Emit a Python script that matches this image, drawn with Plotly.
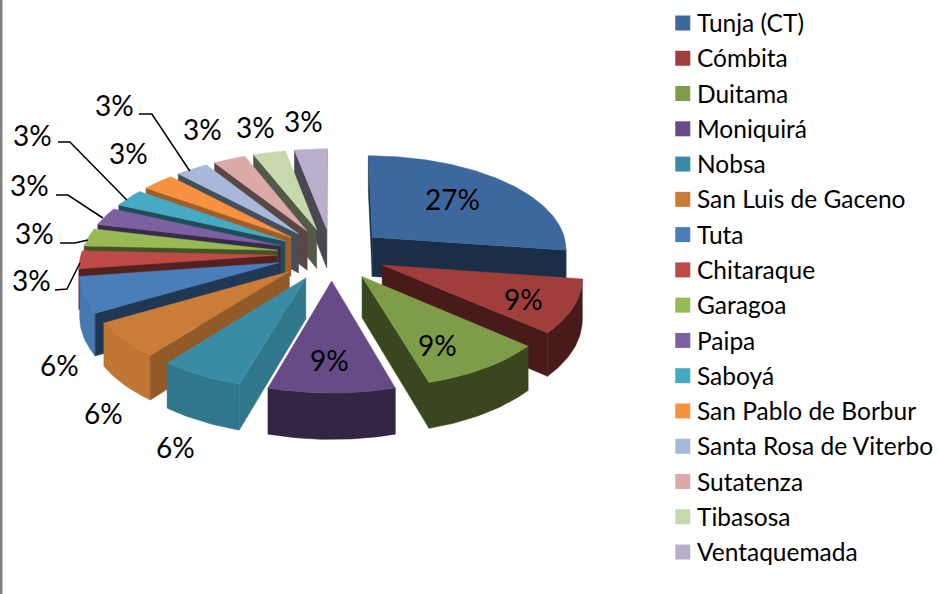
import math
import plotly.graph_objects as go

# ---------- data ----------
municipios = ["Tunja (CT)", "Cómbita", "Duitama", "Moniquirá", "Nobsa", "San Luis de Gaceno",
              "Tuta", "Chitaraque", "Garagoa", "Paipa", "Saboyá", "San Pablo de Borbur",
              "Santa Rosa de Viterbo", "Sutatenza", "Tibasosa", "Ventaquemada"]
casos = [9, 3, 3, 3, 2, 2, 2, 1, 1, 1, 1, 1, 1, 1, 1, 1]

# ---------- styles ----------
top_colors = ["#3C689E", "#A03E3B", "#7F9C48", "#664B87", "#3A8CA5", "#CB7D38",
              "#4A7EBB", "#BE4B48", "#98B954", "#7D60A0", "#46AAC5", "#F69240",
              "#A7B9DA", "#DBA9A8", "#C6D8AC", "#B9AFCD"]
radial_shade = [.45, .45, .45, .5, .85, .72, .45, .45, .45, .45, .45, .65, .42, .42, .42, .4]
outer_shade = [.45, .45, .45, .5, .85, .95, .95, .9, .9, .9, .9, .9, .9, .9, .9, .9]

# Projection of the tilted pie onto the page
CX, CY, RX, RY, PERSP, PULL, DEPTH = 332, 254, 196, 93.6, 0.108, 0.28, 40
# Legend swatch column and rows
SWATCH_X, ROW_0, ROW_STEP = 683.5, 23, 35.27


def project(u, v):
    s = 1 / (1 - PERSP * v)
    return CX + RX * u * s, CY + RY * v * s, s


def shade(hex_color, f):
    r, g, b = (int(hex_color[i:i + 2], 16) for i in (1, 3, 5))
    return "#%02x%02x%02x" % (min(255, int(r * f)), min(255, int(g * f)), min(255, int(b * f)))


def area(poly):
    return sum(poly[i][0] * poly[(i + 1) % len(poly)][1] - poly[(i + 1) % len(poly)][0] * poly[i][1]
               for i in range(len(poly))) / 2


total = sum(casos)
slices = []
start = 0.0
for i, val in enumerate(casos):
    sweep = 360 * val / total
    slices.append((i, start, start + sweep))
    start += sweep

fig = go.Figure()


def add_poly(points, color):
    fig.add_trace(go.Scatter(x=[p[0] for p in points] + [points[0][0]],
                             y=[p[1] for p in points] + [points[0][1]],
                             mode="lines", fill="toself", fillcolor=color,
                             line=dict(width=0.5, color=color), showlegend=False, hoverinfo="skip"))


def quad(a, b):
    return [(a[0], a[1]), (b[0], b[1]), (b[0], b[1] + DEPTH * b[2]), (a[0], a[1] + DEPTH * a[2])]


def wall(a, b, color):
    q = quad(a, b)
    if area(q) < 0:
        add_poly(q, color)


def rim(arc, color):
    # the part of the outer rim that faces the viewer, as one polygon
    run = [k for k in range(len(arc) - 1) if area(quad(arc[k], arc[k + 1])) < 0]
    if not run:
        return
    upper = [arc[k] for k in run] + [arc[run[-1] + 1]]
    poly = [(p[0], p[1]) for p in upper] + [(p[0], p[1] + DEPTH * p[2]) for p in reversed(upper)]
    add_poly(poly, color)


order = sorted(slices, key=lambda t: -math.cos(math.radians((t[1] + t[2]) / 2)))
for i, a0, a1 in order:
    mid = math.radians((a0 + a1) / 2)
    ou, ov = PULL * math.sin(mid), -PULL * math.cos(mid)
    apex = project(ou, ov)
    n = max(4, int(a1 - a0))
    arc = []
    for k in range(n + 1):
        t = math.radians(a0 + (a1 - a0) * k / n)
        arc.append(project(ou + math.sin(t), ov - math.cos(t)))
    col = top_colors[i]
    rc, oc = shade(col, radial_shade[i]), shade(col, outer_shade[i])
    rim(arc, oc)
    wall(apex, arc[0], rc)
    wall(arc[-1], apex, rc)
    add_poly([(p[0], p[1]) for p in [apex] + arc], col)

# Legend entries: native legend text, swatches placed to line up with its rows
for k, (name, col) in enumerate(zip(municipios, top_colors)):
    fig.add_trace(go.Scatter(x=[None], y=[None], mode="markers", name=name, legendgroup=name,
                             marker=dict(symbol="square", size=15, color="rgba(0,0,0,0)")))
    fig.add_trace(go.Scatter(x=[SWATCH_X], y=[ROW_0 + k * ROW_STEP], mode="markers", showlegend=False,
                             legendgroup=name, hoverinfo="skip",
                             marker=dict(symbol="square", size=15, color=col)))

FONT = "Lato, Carlito, Calibri, sans-serif"
label_pos = [(453, 199), (524, 299), (438, 345), (330, 360), (176, 447), (104, 413), (60, 365),
             (32, 280), (35, 233), (30, 185), (33, 135), (129, 153), (115, 105), (203, 129), (256, 127), (304, 121)]
annotations = [dict(x=x, y=y, xref="x", yref="y", text=f"{round(100 * v / total)}%", showarrow=False,
                    font=dict(family=FONT, size=28, color="#000000"))
               for (x, y), v in zip(label_pos, casos)]

leaders = ["M55,290 L67,289 L80,263", "M60,243 L75,243 L88,240", "M56,195 L68,195 L103,218",
           "M58,142 L70,142 L127,200", "M139,114 L152,114 L190,171"]
shapes = [dict(type="path", path=p, xref="x", yref="y", line=dict(color="#000000", width=1.5)) for p in leaders]
shapes.append(dict(type="rect", xref="x", yref="y", x0=0, x1=2.5, y0=0, y1=594,
                   line=dict(width=0), fillcolor="#808080"))

fig.update_layout(
    width=939, height=594, autosize=False, margin=dict(l=0, r=0, t=0, b=0),
    paper_bgcolor="#ffffff", plot_bgcolor="#ffffff",
    xaxis=dict(range=[0, 939], visible=False, fixedrange=True),
    yaxis=dict(range=[594, 0], visible=False, fixedrange=True),
    annotations=annotations, shapes=shapes,
    legend=dict(x=663 / 939, y=1, xref="paper", yref="paper", xanchor="left", yanchor="top",
                font=dict(family=FONT, size=24.5, color="#000000"), tracegroupgap=0.44, indentation=-5,
                bgcolor="rgba(0,0,0,0)"),
    showlegend=True,
)

fig.write_html("out.html", post_script="document.body.style.margin='0';document.body.style.overflow='hidden';",
               config={"displayModeBar": False})
